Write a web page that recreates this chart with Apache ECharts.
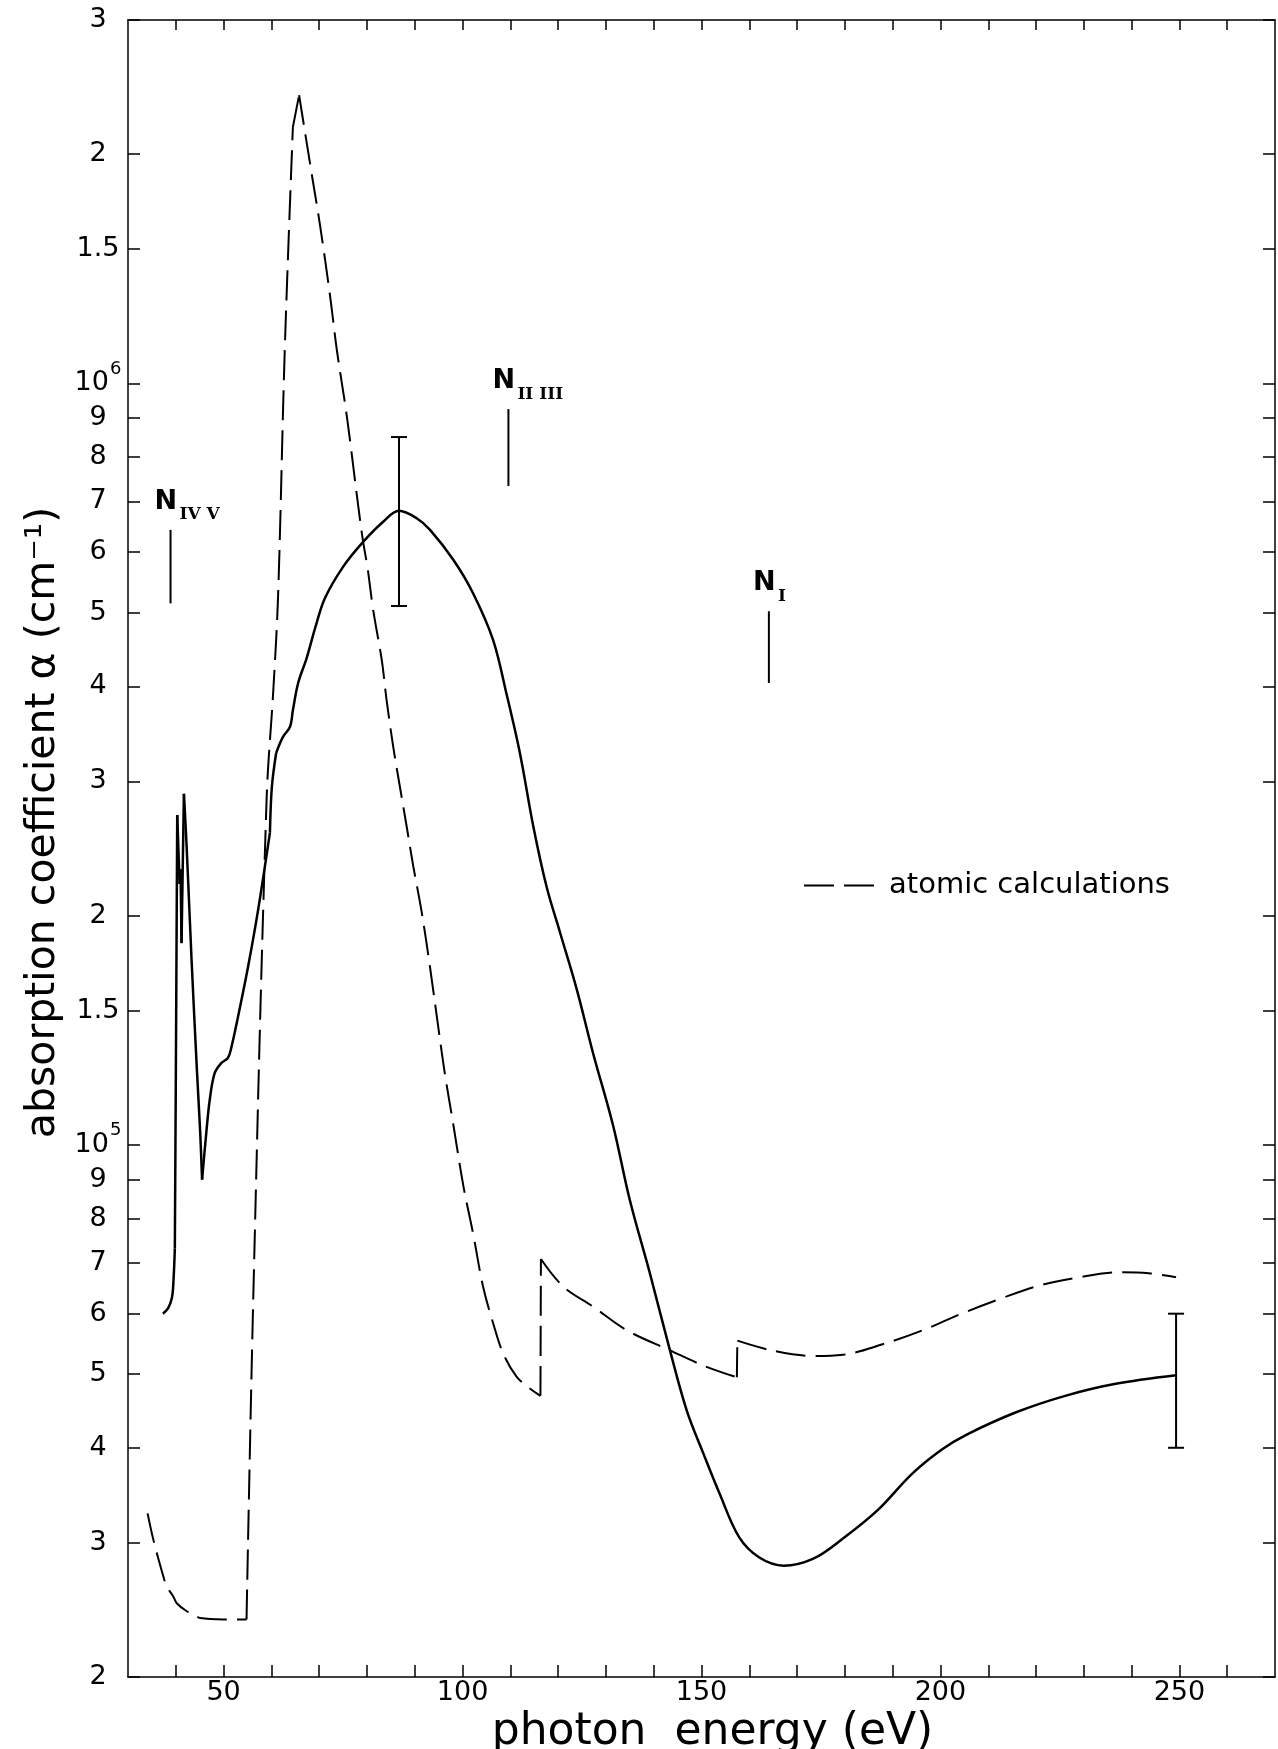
<!DOCTYPE html>
<html>
<head>
<meta charset="utf-8">
<title>absorption coefficient</title>
<script src="https://cdn.jsdelivr.net/npm/echarts@6.0.0/dist/echarts.min.js"></script>
<style>
  html, body { margin: 0; padding: 0; background: #fff; }
  #main { width: 1278px; height: 1749px; }
</style>
</head>
<body>
<div id="main"></div>
<script>
// measured absorption (photon energy in eV, alpha in cm^-1)
var measuredEnergy = [37.3, 38.4, 39.2, 39.5, 39.8, 40.0, 40.3, 40.8, 41.0, 41.2, 41.7, 42.3, 43.3, 44.4, 45.1, 45.5,
  46.4, 47.1, 48.1, 49.5, 50.9, 51.6, 53.0, 55.1, 57.2, 59.7, 60.1, 61.0, 62.4, 63.9, 64.5, 65.6, 67.4, 69.2,
  71.2, 75.0, 79.2, 83.4, 86.7, 90.4, 93.2, 98.1, 102.2, 106.4, 109.2, 112.0, 114.8, 117.6, 120.4, 123.9,
  127.3, 131.5, 135.0, 139.2, 143.4, 146.9, 150.4, 153.8, 157.9, 162.1, 167.2, 173.4, 179.6, 186.8, 194.1,
  200.3, 205.4, 215.7, 226.1, 236.4, 249.3]
var measuredAlpha = [6.0e4, 6.1e4, 6.3e4, 6.6e4, 7.3e4, 1.2e5, 2.71e5, 2.2e5, 2.3e5, 1.84e5, 2.89e5, 2.44e5, 1.75e5, 1.26e5, 1.04e5, 9.0e4,
  1.04e5, 1.145e5, 1.24e5, 1.28e5, 1.30e5, 1.34e5, 1.47e5, 1.71e5, 2.03e5, 2.57e5, 2.95e5, 3.27e5, 3.43e5, 3.54e5, 3.72e5, 4.04e5, 4.36e5, 4.78e5,
  5.22e5, 5.74e5, 6.19e5, 6.58e5, 6.80e5, 6.65e5, 6.42e5, 5.86e5, 5.30e5, 4.60e5, 3.91e5, 3.27e5, 2.62e5, 2.18e5, 1.90e5, 1.60e5,
  1.32e5, 1.06e5, 8.46e4, 6.78e4, 5.37e4, 4.48e4, 3.93e4, 3.48e4, 3.05e4, 2.87e4, 2.80e4, 2.86e4, 3.04e4, 3.31e4, 3.70e4,
  3.98e4, 4.16e4, 4.45e4, 4.68e4, 4.85e4, 4.98e4]
// energies where the measured curve has a sharp corner
var measuredCorners = [39.8, 40.3, 40.8, 41.0, 41.2, 41.7, 45.5, 59.7, 61.0]

// atomic calculations (dashed)
var atomicEnergy = [34.1, 35.3, 37.4, 38.1, 39.5, 40.2, 42.3, 43.7, 45.1, 50.0, 54.8, 56.2, 59.0, 60.4, 61.4, 62.8, 64.5, 65.8,
  68.4, 70.2, 72.3, 73.7, 75.8, 78.2, 79.2, 80.1, 81.3, 83.1, 84.1, 85.5, 86.9, 88.3, 89.7, 91.4, 93.2, 94.9, 96.3, 98.1,
  100.2, 102.2, 104.3, 106.4, 108.5, 111.3, 113.8, 116.3, 116.4, 121.1, 127.3, 134.3, 143.4, 150.7, 157.4, 157.5,
  165.2, 173.4, 179.6, 187.9, 196.1, 204.4, 212.6, 220.9, 229.2, 237.4, 243.6, 249.3]
var atomicAlpha = [3.28e4, 3.03e4, 2.71e4, 2.63e4, 2.55e4, 2.50e4, 2.44e4, 2.42e4, 2.39e4, 2.38e4, 2.38e4, 6.25e4, 2.84e5, 3.95e5, 5.25e5, 1.106e6, 2.17e6, 2.39e6,
  1.89e6, 1.61e6, 1.30e6, 1.106e6, 9.04e5, 6.88e5, 6.19e5, 5.74e5, 5.04e5, 4.33e5, 3.84e5, 3.33e5, 2.95e5, 2.62e5, 2.32e5, 2.03e5, 1.71e5, 1.43e5, 1.24e5, 1.06e5,
  8.81e4, 7.65e4, 6.51e4, 5.83e4, 5.32e4, 4.96e4, 4.80e4, 4.68e4, 7.08e4, 6.51e4, 6.13e4, 5.71e4, 5.37e4, 5.12e4, 4.95e4, 5.53e4,
  5.36e4, 5.28e4, 5.30e4, 5.47e4, 5.70e4, 6.0e4, 6.28e4, 6.54e4, 6.70e4, 6.80e4, 6.78e4, 6.70e4]
var atomicCorners = [54.8, 64.5, 65.8, 116.3, 116.4, 157.4, 157.5]

// error bars
var errorEnergy = [86.7, 249.3]
var errorLow = [5.1e5, 4.0e4]
var errorHigh = [8.5e5, 6.0e4]

// absorption edges
var edgeEnergy = [38.9, 109.6, 164.1]
var edgeBottom = [5.14e5, 7.33e5, 4.04e5]
var edgeTop = [6.42e5, 9.25e5, 5.02e5]
var edgeSub = ['IV V', 'II III', 'I']

// tick positions
var xTicks = [40, 50, 60, 70, 80, 90, 100, 110, 120, 130, 140, 150, 160, 170, 180, 190, 200, 210, 220, 230, 240, 250, 260]
var xLabels = [50, 100, 150, 200, 250]
var yTicks = [2e4, 3e4, 4e4, 5e4, 6e4, 7e4, 8e4, 9e4, 1e5, 1.5e5, 2e5, 3e5, 4e5, 5e5, 6e5, 7e5, 8e5, 9e5, 1e6, 1.5e6, 2e6, 3e6]

// cut a curve into pieces at its corners, so smoothing keeps the corners sharp
function pieces(xs, ys, corners) {
  var out = []
  var cur = []
  for (var i = 0; i < xs.length; i++) {
    cur.push([xs[i], ys[i]])
    if (corners.indexOf(xs[i]) >= 0 && i > 0 && i < xs.length - 1) {
      out.push(cur)
      cur = [[xs[i], ys[i]]]
    }
  }
  if (cur.length > 1) out.push(cur)
  return out
}

function alphaLabel(v) {
  var e = Math.floor(Math.log10(v) + 1e-9)
  var m = Math.round(v / Math.pow(10, e) * 10) / 10
  if (m === 1) return '{b|10}{p|' + e + '}'
  return '{b|' + m + '}'
}

var font = 'DejaVu Sans'
var black = '#000'

var series = []
pieces(measuredEnergy, measuredAlpha, measuredCorners).forEach(function(d) {
  series.push({
    name: 'measured',
    type: 'line',
    data: d,
    symbol: 'none',
    smooth: 0.35,
    lineStyle: { color: black, width: 2.5 },
    itemStyle: { color: black },
    z: 3
  })
})
pieces(atomicEnergy, atomicAlpha, atomicCorners).forEach(function(d) {
  series.push({
    name: 'atomic calculations',
    type: 'line',
    data: d,
    symbol: 'none',
    smooth: 0.35,
    lineStyle: { color: black, width: 2, type: [30, 10] },
    itemStyle: { color: black },
    z: 2
  })
})
series.push({
  name: 'error',
  type: 'custom',
  data: errorEnergy.map(function(e, i) { return [e, errorLow[i], errorHigh[i]] }),
  encode: { x: 0, y: [1, 2] },
  renderItem: function(params, api) {
    var lo = api.coord([api.value(0), api.value(1)])
    var hi = api.coord([api.value(0), api.value(2)])
    var w = 8
    var st = { stroke: black, lineWidth: 2 }
    return {
      type: 'group',
      children: [
        { type: 'line', shape: { x1: hi[0], y1: hi[1], x2: lo[0], y2: lo[1] }, style: st },
        { type: 'line', shape: { x1: hi[0] - w, y1: hi[1], x2: hi[0] + w, y2: hi[1] }, style: st },
        { type: 'line', shape: { x1: lo[0] - w, y1: lo[1], x2: lo[0] + w, y2: lo[1] }, style: st }
      ]
    }
  },
  z: 4
})
series.push({
  name: 'edges',
  type: 'custom',
  data: edgeEnergy.map(function(e, i) { return [e, edgeBottom[i], edgeTop[i]] }),
  encode: { x: 0, y: [1, 2] },
  renderItem: function(params, api) {
    var lo = api.coord([api.value(0), api.value(1)])
    var hi = api.coord([api.value(0), api.value(2)])
    return {
      type: 'group',
      children: [
        { type: 'line', shape: { x1: hi[0], y1: hi[1], x2: lo[0], y2: lo[1] }, style: { stroke: black, lineWidth: 2 } },
        { type: 'text', x: hi[0] - 16, y: hi[1] - 28,
          style: { text: 'N', fill: black, font: 'bold 27px "DejaVu Sans"', align: 'left', verticalAlign: 'middle' } },
        { type: 'text', x: hi[0] + 9, y: hi[1] - 15,
          style: { text: edgeSub[params.dataIndex], fill: black, font: 'bold 17px "DejaVu Serif"', align: 'left', verticalAlign: 'middle' } }
      ]
    }
  },
  z: 4
})

var myChart = echarts.init(document.getElementById('main'))

var option = {
  animation: false,
  backgroundColor: '#fff',
  grid: { left: 128, right: 3, top: 20, bottom: 72, outerBoundsMode: 'none' },
  legend: {
    data: [{ name: 'atomic calculations', itemStyle: { opacity: 0 } }],
    left: 798,
    top: 866,
    itemWidth: 80,
    itemHeight: 14,
    itemStyle: { opacity: 0 },
    textStyle: { fontFamily: font, fontSize: 29, color: black }
  },
  xAxis: [{
    type: 'value',
    min: 30,
    max: 270,
    name: 'photon  energy (eV)',
    nameLocation: 'middle',
    nameGap: 24,
    nameTextStyle: { fontFamily: font, fontSize: 44, color: black, padding: [0, 0, 0, 22] },
    axisLine: { show: true, lineStyle: { color: black, width: 1.5 } },
    axisTick: { inside: true, length: 12, customValues: xTicks, lineStyle: { color: black, width: 1.5 } },
    axisLabel: { customValues: xLabels, margin: 2, fontFamily: font, fontSize: 27, color: black },
    splitLine: { show: false }
  }, {
    type: 'value',
    position: 'top',
    min: 30,
    max: 270,
    axisLine: { show: true, lineStyle: { color: black, width: 1.5 } },
    axisTick: { inside: true, length: 10, customValues: xTicks, lineStyle: { color: black, width: 1.5 } },
    axisLabel: { show: false },
    splitLine: { show: false }
  }],
  yAxis: [{
    type: 'log',
    min: 2e4,
    max: 3e6,
    name: 'absorption coefficient α (cm⁻¹)',
    nameLocation: 'middle',
    nameGap: 40,
    nameTextStyle: { fontFamily: font, fontSize: 41, color: black, padding: [0, 0, 0, 52] },
    axisLine: { show: true, lineStyle: { color: black, width: 1.5 } },
    axisTick: { inside: true, length: 12, customValues: yTicks, lineStyle: { color: black, width: 1.5 } },
    axisLabel: {
      customValues: yTicks,
      formatter: alphaLabel,
      align: 'center',
      margin: 30,
      rich: {
        b: { fontFamily: font, fontSize: 27, color: black, lineHeight: 30, padding: [8, 0, 8, 0] },
        p: { fontFamily: font, fontSize: 18, color: black, lineHeight: 18, padding: [0, 0, 28, 1] }
      }
    },
    splitLine: { show: false }
  }, {
    type: 'log',
    position: 'right',
    min: 2e4,
    max: 3e6,
    axisLine: { show: true, lineStyle: { color: black, width: 1.5 } },
    axisTick: { inside: true, length: 12, customValues: yTicks, lineStyle: { color: black, width: 1.5 } },
    axisLabel: { show: false },
    splitLine: { show: false }
  }],
  series: series
}

myChart.setOption(option)
window.addEventListener('resize', function() {
  myChart.resize()
})
</script>
</body>
</html>
